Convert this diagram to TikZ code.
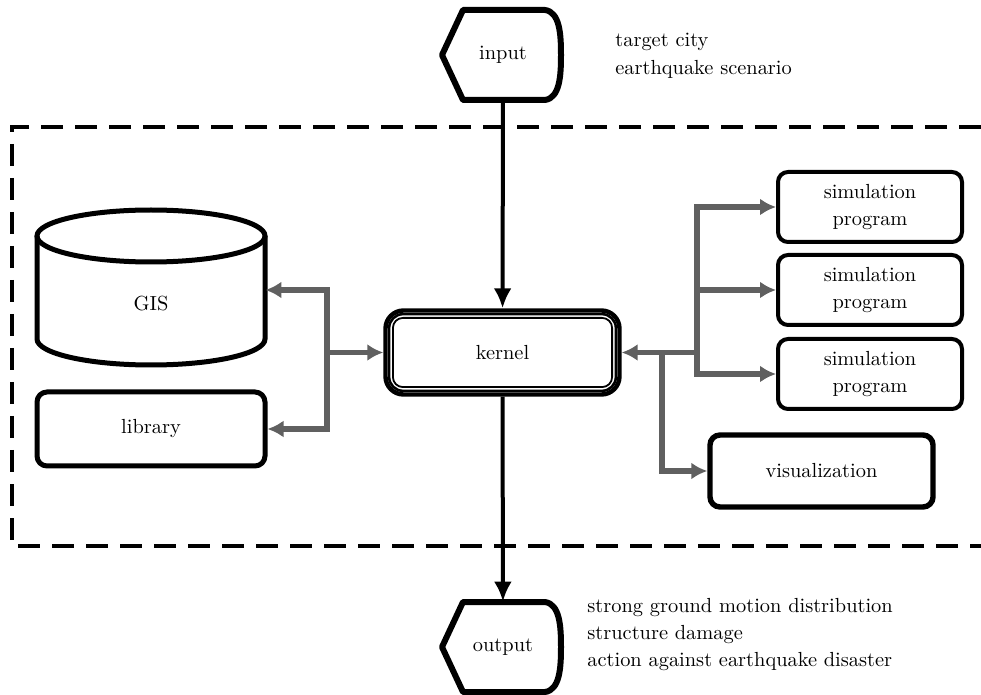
\documentclass[tikz,border=0pt]{standalone}
\usepackage{tikz}
\usetikzlibrary{arrows.meta,positioning}
\definecolor{linegray}{RGB}{96,96,96}
\tikzstyle{garrow} = [draw=linegray, line width=2.6pt, -{Latex[length=8pt,width=8.5pt]}]
\tikzstyle{barrow} = [draw=black, line width=2pt, -{Latex[length=10pt,width=9pt]}]
\tikzset{
 b/.style
  = {rectangle, draw, rounded corners=5pt, line width=2pt, align=center,
     minimum width=92pt, minimum height=35pt, inner sep=0pt},
 d/.style
  = {minimum width=59pt, minimum height=45pt, inner sep=0pt},
 dline/.style
  = {draw, line width=3pt, line join=round},
 note/.style
  = {anchor=west, align=left, inner sep=0pt},
}

\begin{document}
\begin{tikzpicture}[x=0.5pt, y=-0.5pt,
    every node/.style = {font=\fontsize{10.2}{13.5}\selectfont}]
\useasboundingbox (0,0) rectangle (981,695);

% Frame of the system
\draw[line width=1.6pt, dash pattern=on 11pt off 6pt]
    (981,127) -- (12,127) -- (12,546) -- (981,546);

% Input and output
\node[d] (in) at (503,55) {input};
\draw[dline] (442,55) -- (463,10) -- (545,10)
    .. controls (560,12) and (561,35) .. (561,55)
    .. controls (561,75) and (560,98) .. (545,100) -- (463,100) -- cycle;
\node[d] (out) at (503,647) {output};
\draw[dline] (442,647) -- (463,602) -- (545,602)
    .. controls (560,604) and (561,627) .. (561,647)
    .. controls (561,667) and (560,690) .. (545,692) -- (463,692) -- cycle;

\node[note] (cond) at (615,56) {target city\\[0.5pt]earthquake scenario};
\node[note] (res) at (587,635) {strong ground motion distribution\\structure damage\\action against earthquake disaster};

% Kernel
\node[rectangle, draw, rounded corners=9pt, line width=2.2pt,
      minimum width=117pt, minimum height=42pt] (kern) at (502.5,352.5) {kernel};
\draw[line width=1.3pt, rounded corners=7pt]
    ([shift={(2.9pt,-2.9pt)}]kern.north west) rectangle ([shift={(-2.9pt,2.9pt)}]kern.south east);
\draw[line width=0.9pt, rounded corners=5pt]
    ([shift={(4.8pt,-4.8pt)}]kern.north west) rectangle ([shift={(-4.8pt,4.8pt)}]kern.south east);

% GIS and library
\node[minimum width=114pt, minimum height=77.5pt, inner sep=0pt,
      label={[yshift=-7pt]center:GIS}] (gis) at (151,290) {};
\draw[line width=2.5pt] (151,236) ellipse [x radius=114, y radius=26];
\draw[line width=2.5pt] (37,236) -- (37,339) arc[start angle=180, end angle=0, x radius=114, y radius=26] -- (265,236);
\node[b, minimum width=114pt, minimum height=37pt, line width=2.5pt] (lib) at (151,429) {library};

% Simulation programs and visualization
\node[b] (sim1) at (870,207) {simulation\\program};
\node[b] (sim2) at (870,290) {simulation\\program};
\node[b] (sim3) at (870,374) {simulation\\program};
\node[b, minimum width=111.5pt, minimum height=36pt, line width=2.7pt] (vis) at (821.5,471) {visualization};

% Connections
\draw[barrow] (in) -- (kern);
\draw[barrow] (kern) -- (out);

\coordinate (jl) at (327,352.5);
\draw[garrow] (jl) -- (kern.west);
\draw[garrow] (jl) |- (gis.east);
\draw[garrow] (jl) |- (lib.east);

\coordinate (jr) at (697,352.5);
\coordinate (jv) at (662,352.5);
\draw[garrow] (jr) -- (kern.east);
\draw[garrow] (jr) |- (sim1.west);
\draw[garrow] (jr) |- (sim2.west);
\draw[garrow] (jr) |- (sim3.west);
\draw[garrow] (jv) |- (vis.west);

\end{tikzpicture}
\end{document}
